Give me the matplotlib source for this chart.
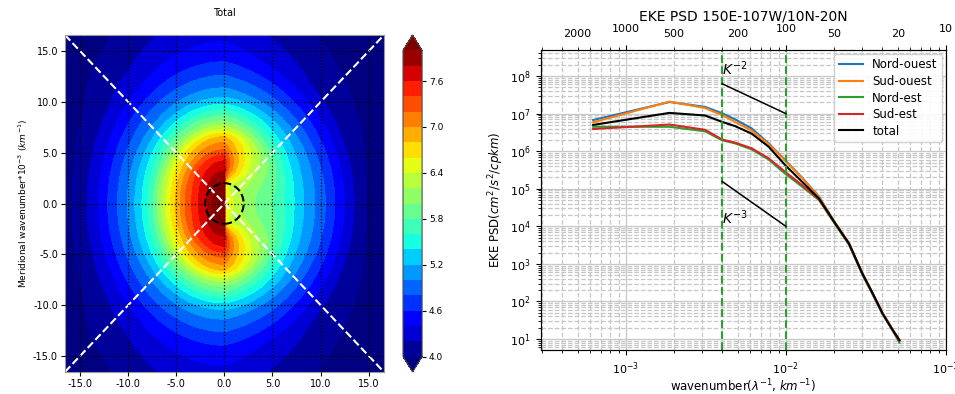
import numpy as np
import matplotlib
matplotlib.use("Agg")
import matplotlib.pyplot as plt
from matplotlib.patches import Circle
from matplotlib.ticker import FuncFormatter, LogLocator, FixedLocator, NullFormatter

# ---------------- Left panel: 2D spectrum (log10 PSD) read as profiles ----------------
# radial profile toward negative zonal wavenumbers (left)
radius_left = [0, 1.8, 2.7, 3.4, 4.1, 4.6, 5.1, 5.6, 6.3, 7.0, 7.6, 8.75, 10.1, 11.9, 13.6, 15.3, 17.0, 24.0]
psd_left = [8.4, 7.8, 7.6, 7.4, 7.2, 7.0, 6.8, 6.6, 6.3, 6.0, 5.7, 5.35, 5.0, 4.65, 4.3, 4.05, 3.9, 3.6]
# radial profile along the meridional axis (up / down)
radius_up = [0, 3.2, 4.2, 4.8, 5.3, 6.0, 6.6, 7.1, 7.9, 8.8, 9.8, 10.8, 12.3, 14.3, 16.5, 24.0]
psd_up = [8.4, 7.8, 7.6, 7.4, 7.2, 7.0, 6.8, 6.5, 6.1, 5.75, 5.4, 5.1, 4.85, 4.55, 4.35, 3.9]
# radial profile toward positive zonal wavenumbers (right)
radius_right = [0, 0.5, 1.5, 3.5, 5.5, 6.5, 7.5, 8.5, 9.7, 10.5, 11.5, 12.5, 13.5, 14.8, 24.0]
psd_right = [6.9, 6.5, 6.25, 5.95, 5.75, 5.55, 5.35, 5.15, 4.95, 4.8, 4.6, 4.4, 4.2, 4.0, 3.6]
# sharpness of the east/west transition versus radius
radius_sharp = [0, 2.0, 3.5, 6.0]
sharp_exp = [0.02, 0.1, 0.6, 1.0]

left_ticks = [-15.0, -10.0, -5.0, 0.0, 5.0, 10.0, 15.0]
cbar_ticks = [4.0, 4.6, 5.2, 5.8, 6.4, 7.0, 7.6]

# ---------------- Right panel: 1D EKE spectra ----------------
wavenumber = [6.25e-4, 1.875e-3, 3.125e-3, 4.0e-3, 4.8e-3, 6.1e-3, 7.8e-3, 9.9e-3,
              1.26e-2, 1.61e-2, 2.04e-2, 2.48e-2, 3.0e-2, 3.48e-2, 4.02e-2, 4.65e-2, 5.12e-2]
log_nord_ouest = [6.83, 7.31, 7.18, 7.01, 6.85, 6.61, 6.21, 5.76, 5.30, 4.79, 4.08, 3.55, 2.75, 2.22, 1.68, 1.24, 0.97]
log_sud_ouest = [6.77, 7.32, 7.15, 6.96, 6.78, 6.55, 6.19, 5.75, 5.29, 4.78, 4.08, 3.55, 2.76, 2.23, 1.69, 1.25, 0.98]
log_nord_est = [6.65, 6.65, 6.53, 6.29, 6.21, 6.05, 5.78, 5.40, 5.06, 4.70, 4.04, 3.51, 2.72, 2.19, 1.66, 1.22, 0.90]
log_sud_est = [6.59, 6.71, 6.57, 6.31, 6.23, 6.08, 5.81, 5.45, 5.10, 4.72, 4.06, 3.53, 2.74, 2.21, 1.67, 1.23, 0.95]
log_total = [6.70, 7.02, 6.95, 6.78, 6.67, 6.47, 6.12, 5.63, 5.19, 4.74, 4.07, 3.54, 2.75, 2.22, 1.68, 1.24, 0.97]
series_names = ["Nord-ouest", "Sud-ouest", "Nord-est", "Sud-est", "total"]
series_colors = ["#1f77b4", "#ff7f0e", "#2ca02c", "#d62728", "black"]

band_edges = [1 / 250.0, 1 / 100.0]        # vertical green dashed lines
slope_k = [1 / 250.0, 1 / 100.0]           # extent of reference slopes
coef_k2 = 1.0e3                            # K^-2 reference amplitude
coef_k3 = 1.0e-2                           # K^-3 reference amplitude
top_major = [1000, 100, 10]
top_minor_labeled = [2000, 500, 200, 50, 20]

# ---------------- Figure ----------------
fig = plt.figure(figsize=(9.55, 3.94), dpi=100)

# ---- left panel ----
ax1 = fig.add_axes([0.068, 0.056, 0.334, 0.855])
lim = 16.6
grid = np.linspace(-lim, lim, 333)
X, Y = np.meshgrid(grid, grid)
R = np.hypot(X, Y)
Rs = np.where(R > 0, R, 1.0)
cosv = np.abs(X) / Rs
f_left = np.interp(R, radius_left, psd_left)
f_up = np.interp(R, radius_up, psd_up)
f_right = np.interp(R, radius_right, psd_right)
field_w = cosv ** 2 * f_left + (1 - cosv ** 2) * f_up
p = np.interp(R, radius_sharp, sharp_exp)
w = np.where(X > 0, cosv ** p, 0.0)
field_e = w * f_right + (1 - w) * f_up
field = np.where(X < 0, field_w, field_e)

levels = np.round(np.arange(4.0, 8.0001, 0.2), 1)
cs = ax1.contourf(X, Y, field, levels=levels, cmap="jet", extend="both")
ax1.set_xlim(-lim, lim)
ax1.set_ylim(-lim, lim)
ax1.set_axisbelow(False)
ax1.grid(True, color="k", ls=":", lw=0.9)
ax1.plot([-lim, lim], [-lim, lim], color="white", ls="--", lw=1.5)
ax1.plot([-lim, lim], [lim, -lim], color="white", ls="--", lw=1.5)
ax1.add_patch(Circle((0, 0), 2.0, fill=False, ec="black", ls="--", lw=1.5, zorder=5))
ax1.set_xticks(left_ticks)
ax1.set_yticks(left_ticks)
ax1.set_xticklabels(["%.1f" % v for v in left_ticks])
ax1.set_yticklabels(["%.1f" % v for v in left_ticks])
ax1.tick_params(labelsize=7, length=3, pad=2)
ax1.set_ylabel(r"Meridional wavenumber*10$^{-3}$ ($km^{-1}$)", fontsize=6.5, labelpad=2)
ax1.set_title("Total", fontsize=7, pad=14)
for s in ax1.spines.values():
    s.set_color("0.6")

cax = fig.add_axes([0.422, 0.056, 0.020, 0.855])
cb = fig.colorbar(cs, cax=cax, ticks=cbar_ticks)
cb.ax.set_yticklabels(["%.1f" % v for v in cbar_ticks])
cb.ax.tick_params(labelsize=6.5, length=3, pad=2)
cb.outline.set_edgecolor("0.3")

# ---- right panel ----
ax2 = fig.add_axes([0.5665, 0.1117, 0.424, 0.761])
ax2.set_xscale("log")
ax2.set_yscale("log")
ax2.set_xlim(2.95e-4, 1e-1)
ax2.set_ylim(5.1, 4.9e8)
ax2.grid(True, which="major", ls="-", color="0.78", lw=0.9)
ax2.grid(True, which="minor", ls="--", color="0.78", lw=0.9)
ax2.yaxis.set_major_locator(LogLocator(base=10, numticks=20))
ax2.yaxis.set_minor_locator(LogLocator(base=10, subs=np.arange(2, 10), numticks=20))
ax2.yaxis.set_minor_formatter(NullFormatter())

k = np.array(wavenumber)
for vals, name, col in zip([log_nord_ouest, log_sud_ouest, log_nord_est, log_sud_est, log_total],
                           series_names, series_colors):
    ax2.plot(k, 10 ** np.array(vals), color=col, lw=1.5, label=name)

for xv in band_edges:
    ax2.axvline(xv, color="#2ca02c", ls="--", lw=1.5)
ks = np.array(slope_k)
ax2.plot(ks, coef_k2 * ks ** -2.0, color="black", lw=1.1)
ax2.plot(ks, coef_k3 * ks ** -3.0, color="black", lw=1.1)
ax2.text(slope_k[0], 1.1e8, r"$K^{-2}$", fontsize=10, ha="left", va="baseline")
ax2.text(slope_k[0], 1.15e4, r"$K^{-3}$", fontsize=10, ha="left", va="baseline")

ax2.tick_params(labelsize=8, pad=4)
ax2.set_xlabel(r"wavenumber($\lambda^{-1}$, $km^{-1}$)", fontsize=8.5, labelpad=0)
ax2.set_ylabel(r"EKE PSD($cm^2/s^2/cpkm$)", fontsize=8.5, labelpad=3)
ax2.legend(loc="upper right", fontsize=8.5, framealpha=0.9, handlelength=2.0,
           labelspacing=0.3, borderaxespad=0.3)

axt = ax2.twiny()
axt.set_xscale("log")
axt.set_xlim(ax2.get_xlim())
axt.xaxis.set_major_locator(FixedLocator([1.0 / v for v in top_major]))
axt.xaxis.set_major_formatter(FuncFormatter(lambda x, p: "%d" % round(1.0 / x)))
axt.xaxis.set_minor_locator(LogLocator(base=10, subs=np.arange(2, 10), numticks=20))
axt.xaxis.set_minor_formatter(FuncFormatter(
    lambda x, p: ("%d" % round(1.0 / x)) if int(round(1.0 / x)) in top_minor_labeled else ""))
axt.tick_params(axis="x", which="major", labelsize=8, pad=8)
axt.tick_params(axis="x", which="minor", labelsize=8, pad=6)
ax2.set_title("EKE PSD 150E-107W/10N-20N", fontsize=10, y=1.10, pad=0)

fig.savefig("out.png", dpi=100)
